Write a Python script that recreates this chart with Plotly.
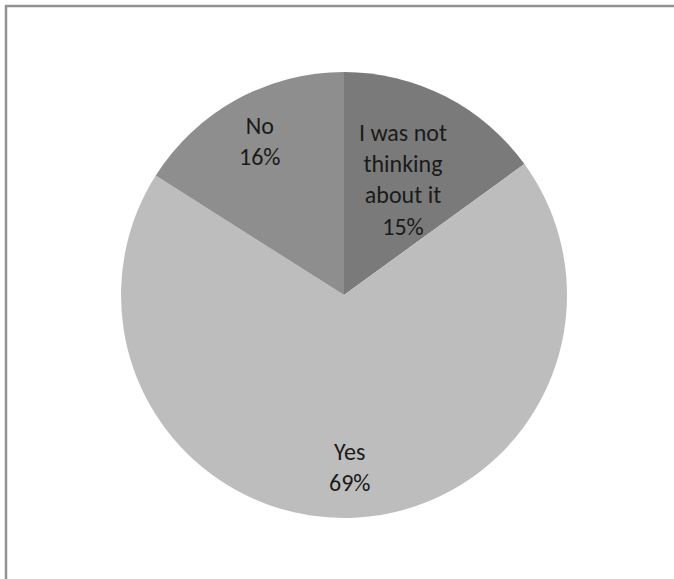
import math
import plotly.graph_objects as go

labels = ["I was not thinking about it", "Yes", "No"]
display_labels = ["I was not<br>thinking<br>about it", "Yes", "No"]
values = [15, 69, 16]
colors = ["#7a7a7a", "#bdbdbd", "#8e8e8e"]
label_radius_frac = [0.58, 0.77, 0.79]

W, H = 674, 579
cx, cy, R = 344, 295, 223

fig = go.Figure(go.Pie(
    labels=labels,
    values=values,
    sort=False,
    direction="clockwise",
    rotation=0,
    marker=dict(colors=colors, line=dict(width=0)),
    textinfo="none",
    hoverinfo="label+percent",
    domain=dict(x=[(cx - R) / W, (cx + R) / W],
                y=[(H - cy - R) / H, (H - cy + R) / H]),
    showlegend=False,
))

total = sum(values)
cum = 0
for lab, v, f in zip(display_labels, values, label_radius_frac):
    mid = (cum + v / 2) / total * 2 * math.pi
    cum += v
    x = cx + f * R * math.sin(mid)
    y = cy - f * R * math.cos(mid)
    pct = round(v / total * 100)
    fig.add_annotation(
        x=x / W, y=1 - y / H, xref="paper", yref="paper",
        text=f"{lab}<br>{pct}%", showarrow=False,
        font=dict(family="Carlito, Calibri, Lato, sans-serif",
                  size=24, color="#1a1a1a"),
        xanchor="center", yanchor="middle", align="center",
    )

# partial chart frame (top and left edges visible)
fig.add_shape(type="line", xref="paper", yref="paper",
              x0=5 / W, x1=1.0, y0=1 - 6 / H, y1=1 - 6 / H,
              line=dict(color="#929292", width=2.5))
fig.add_shape(type="line", xref="paper", yref="paper",
              x0=6 / W, x1=6 / W, y0=1 - 5 / H, y1=0,
              line=dict(color="#929292", width=2.5))

fig.update_layout(
    width=W, height=H,
    margin=dict(l=0, r=0, t=0, b=0),
    paper_bgcolor="white",
    plot_bgcolor="white",
)

fig.write_html("out.html")
